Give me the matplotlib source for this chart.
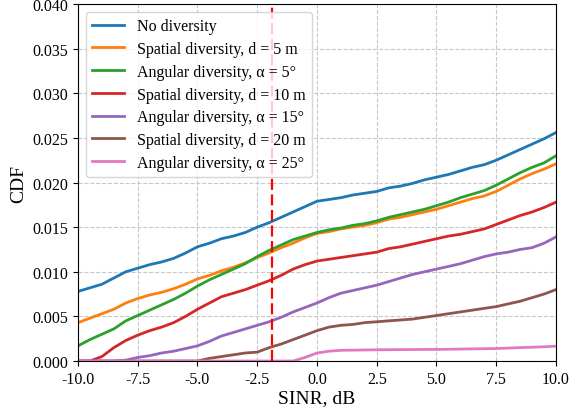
import numpy as np
import matplotlib
matplotlib.use("Agg")
import matplotlib.pyplot as plt

plt.rcParams['font.family'] = ['Liberation Serif', 'DejaVu Serif']
plt.rcParams['mathtext.fontset'] = 'stix'

sinr = np.arange(-10, 10.01, 0.5)

no_div = [.0078, .0082, .0086, .0093, .0100, .0104, .0108, .0111, .0115, .0121, .0128, .0132, .0137, .0140,
          .0144, .0150, .0155, .0161, .0167, .0173, .0179, .0181, .0183, .0186, .0188, .0190, .0194, .0196,
          .0199, .0203, .0206, .0209, .0213, .0217, .0220, .0225, .0231, .0237, .0243, .0249, .0256]
spat_5 = [.0043, .0048, .0053, .0058, .0065, .0070, .0074, .0077, .0081, .0086, .0092, .0096, .0101, .0105,
          .0110, .0116, .0121, .0127, .0132, .0138, .0143, .0145, .0148, .0150, .0152, .0155, .0159, .0161,
          .0164, .0167, .0170, .0174, .0178, .0182, .0185, .0190, .0197, .0204, .0210, .0215, .0221]
ang_5 = [.0017, .0024, .0030, .0036, .0045, .0051, .0057, .0063, .0069, .0076, .0084, .0091, .0097, .0103,
         .0109, .0117, .0124, .0130, .0136, .0140, .0144, .0147, .0149, .0152, .0154, .0157, .0161, .0164,
         .0167, .0170, .0174, .0178, .0183, .0187, .0191, .0197, .0204, .0211, .0217, .0222, .0230]
spat_10 = [0, 0, .0005, .0015, .0023, .0029, .0034, .0038, .0043, .0050, .0058, .0065, .0072, .0076,
           .0080, .0085, .0090, .0096, .0103, .0108, .0112, .0114, .0116, .0118, .0120, .0122, .0126, .0128,
           .0131, .0134, .0137, .0140, .0142, .0145, .0148, .0153, .0158, .0163, .0167, .0172, .0178]
ang_15 = [0, 0, 0, 0, .0001, .0004, .0006, .0009, .0011, .0014, .0017, .0022, .0028, .0032,
          .0036, .0040, .0044, .0049, .0055, .0060, .0065, .0071, .0076, .0079, .0082, .0085, .0089, .0093,
          .0097, .0100, .0103, .0106, .0109, .0113, .0117, .0120, .0122, .0125, .0127, .0132, .0139]
spat_20 = [0, 0, 0, 0, 0, 0, 0, 0, 0, 0, 0, .0003, .0005, .0007,
           .0009, .0010, .0015, .0019, .0024, .0029, .0034, .0038, .0040, .0041, .0043, .0044, .0045, .0046,
           .0047, .0049, .0051, .0053, .0055, .0057, .0059, .0061, .0064, .0067, .0071, .0075, .0080]
ang_25 = [0, 0, 0, 0, 0, 0, 0, 0, 0, 0, 0, 0, 0, 0,
          0, 0, 0, 0, 0, .0004, .0009, .0011, .0012, .00122, .00124, .00126, .00127, .00128,
          .00129, .0013, .0013, .00132, .00134, .00136, .00138, .0014, .00145, .0015, .00155, .0016, .00166]

labels = ["No diversity",
          "Spatial diversity, d = 5 m",
          "Angular diversity, α = 5°",
          "Spatial diversity, d = 10 m",
          "Angular diversity, α = 15°",
          "Spatial diversity, d = 20 m",
          "Angular diversity, α = 25°"]
series = [no_div, spat_5, ang_5, spat_10, ang_15, spat_20, ang_25]
threshold = -1.9

fig = plt.figure(figsize=(5.71, 4.10), dpi=100)
ax = fig.add_axes([0.1366, 0.117, 0.8371, 0.8708])

for y, lab in zip(series, labels):
    ax.plot(sinr, y, linewidth=2, label=lab)

ax.axvline(threshold, color='red', linestyle=(0, (5, 2)), linewidth=1.6)

ax.set_xlim(-10, 10)
ax.set_ylim(0, 0.04)
ax.set_xticks(np.arange(-10, 10.01, 2.5))
ax.set_yticks(np.arange(0, 0.0401, 0.005))
ax.xaxis.set_major_formatter(matplotlib.ticker.FormatStrFormatter('%.1f'))
ax.yaxis.set_major_formatter(matplotlib.ticker.FormatStrFormatter('%.3f'))
ax.tick_params(labelsize=11.5)
ax.grid(True, linestyle='--', color='#c8c8c8', linewidth=0.8)
ax.set_xlabel("SINR, dB", fontsize=14, labelpad=2)
ax.set_ylabel("CDF", fontsize=14)
ax.legend(loc='upper left', fontsize=11.5, labelspacing=0.42)

fig.savefig("out.png", dpi=100)
